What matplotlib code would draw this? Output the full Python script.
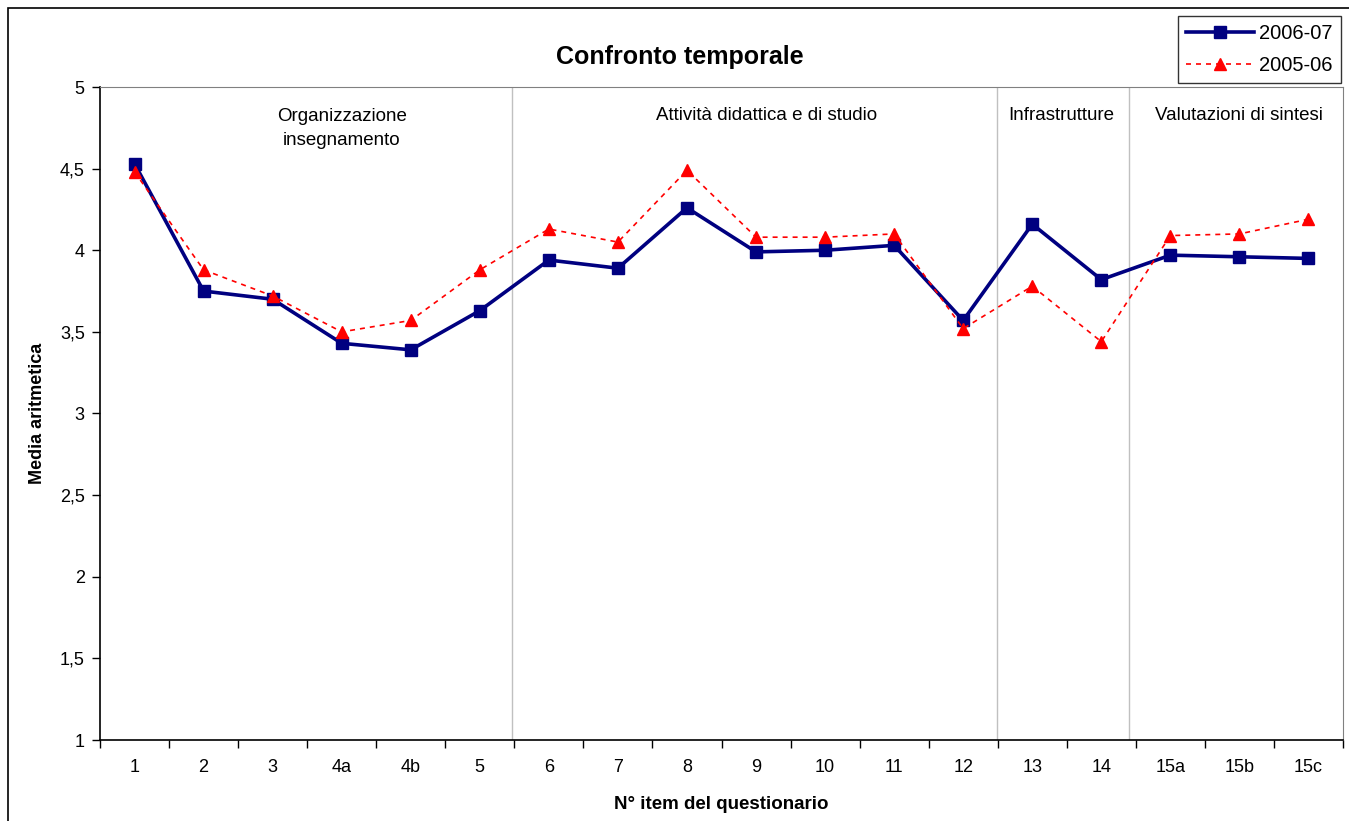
import matplotlib

matplotlib.use("Agg")
import matplotlib.pyplot as plt
from matplotlib.patches import Rectangle
from matplotlib.ticker import FixedLocator, FuncFormatter

plt.rcParams["font.family"] = ["Liberation Sans", "DejaVu Sans"]

items = ["1", "2", "3", "4a", "4b", "5", "6", "7", "8", "9", "10", "11", "12", "13", "14", "15a", "15b", "15c"]
media_2006_07 = [4.53, 3.75, 3.70, 3.43, 3.39, 3.63, 3.94, 3.89, 4.26, 3.99, 4.00, 4.03, 3.57, 4.16, 3.82, 3.97, 3.96, 3.95]
media_2005_06 = [4.48, 3.88, 3.72, 3.50, 3.57, 3.88, 4.13, 4.05, 4.49, 4.08, 4.08, 4.10, 3.52, 3.78, 3.44, 4.09, 4.10, 4.19]

# section separators (in category coordinates) and labels
section_edges = [5.47, 12.49, 14.40]
section_labels = ["Organizzazione\ninsegnamento", "Attività didattica e di studio", "Infrastrutture", "Valutazioni di sintesi"]
section_label_x = [3.0, 9.15, 13.42, 16.0]
section_label_y = [4.87, 4.88, 4.88, 4.88]

fig = plt.figure(figsize=(13.49, 8.21), dpi=100)
ax = fig.add_axes([100 / 1349, 81 / 821, 1243 / 1349, 653 / 821])

x = list(range(len(items)))
ax.plot(x, media_2006_07, color="#000080", lw=2.6, marker="s", markersize=8.5, label="2006-07", zorder=3)
ax.plot(x, media_2005_06, color="#ff0000", lw=1.2, ls=(0, (3, 3)), marker="^", markersize=9, label="2005-06", zorder=4)

for xe in section_edges:
    ax.axvline(xe, color="#c0c0c0", lw=1.0, zorder=1)
for lab, lx, ly in zip(section_labels, section_label_x, section_label_y):
    ax.text(lx, ly, lab, ha="center", va="top", fontsize=13.5, linespacing=1.5)

ax.set_xlim(-0.5, len(items) - 0.5)
ax.set_ylim(1, 5)
ax.set_yticks([1, 1.5, 2, 2.5, 3, 3.5, 4, 4.5, 5])
ax.yaxis.set_major_formatter(FuncFormatter(lambda v, _: f"{v:g}".replace(".", ",")))
ax.set_xticks(x)
ax.set_xticklabels(items)
ax.xaxis.set_minor_locator(FixedLocator([i - 0.5 for i in range(len(items) + 1)]))
ax.tick_params(axis="x", which="major", length=0, pad=14, labelsize=13)
ax.tick_params(axis="x", which="minor", length=6, width=1, direction="out")
ax.tick_params(axis="y", length=6, width=1, direction="out", labelsize=13, pad=5)

for side in ("top", "right"):
    ax.spines[side].set_color("#808080")
for side in ("left", "bottom"):
    ax.spines[side].set_color("black")
    ax.spines[side].set_linewidth(1.2)

ax.set_ylabel("Media aritmetica", fontsize=13, fontweight="bold", labelpad=10)
ax.set_xlabel("N° item del questionario", fontsize=13.5, fontweight="bold", labelpad=14)
fig.text(680 / 1349, 1 - 57 / 821, "Confronto temporale", ha="center", va="center", fontsize=18, fontweight="bold")

leg = fig.legend(loc="upper right", bbox_to_anchor=(1341 / 1349, 1 - 16 / 821), fontsize=14.5,
                 frameon=True, fancybox=False, edgecolor="black", handlelength=3.4,
                 borderpad=0.4, labelspacing=0.65, handletextpad=0.25, borderaxespad=0)
leg.get_frame().set_linewidth(1.0)

# chart border
fig.patches.append(Rectangle((8 / 1349, -0.05), 1.2, 1 - 8 / 821 + 0.05, transform=fig.transFigure,
                             fill=False, edgecolor="black", lw=1.2))

fig.savefig("out.png", dpi=100)
